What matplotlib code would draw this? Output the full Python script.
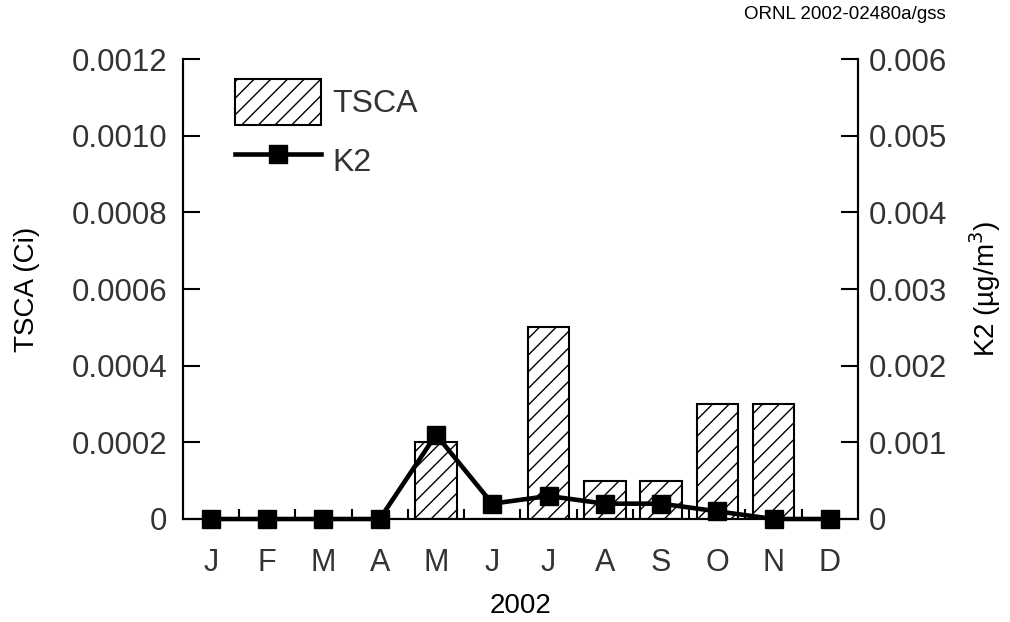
import numpy as np
import matplotlib
matplotlib.use("Agg")
import matplotlib.pyplot as plt
from matplotlib.ticker import FixedLocator, FuncFormatter

months = ["J", "F", "M", "A", "M", "J", "J", "A", "S", "O", "N", "D"]
tsca = [0, 0, 0, 0, 0.0002, 0, 0.0005, 0.0001, 0.0001, 0.0003, 0.0003, 0]
k2 = [0, 0, 0, 0, 0.0011, 0.0002, 0.0003, 0.0002, 0.0002, 0.0001, 0, 0]

plt.rcParams['font.family'] = ['Liberation Sans', 'DejaVu Sans']
plt.rcParams['hatch.linewidth'] = 1.0
txt = '#333333'

fig = plt.figure(figsize=(10.1, 6.22), dpi=100)
ax = fig.add_axes([0.181, 0.1656, 0.6685, 0.7395])
ax2 = ax.twinx()

x = np.arange(len(months))
bars = ax.bar(x, tsca, width=0.74, color='white', edgecolor='black',
              linewidth=1.5, hatch='//', label='TSCA', zorder=2)
line, = ax2.plot(x, k2, color='black', lw=3.3, marker='s', ms=12.5,
                 label='K2', clip_on=False, zorder=3)

# line axis on top of the bars
ax.set_zorder(ax2.get_zorder() - 1)
ax2.patch.set_visible(False)

ax.set_xlim(-0.5, 11.5)
ax.set_ylim(0, 0.0012)
ax2.set_ylim(0, 0.006)

for a in (ax, ax2):
    a.spines['top'].set_visible(False)
    for s in a.spines.values():
        s.set_linewidth(1.5)

ax.set_yticks(np.arange(0, 0.00121, 0.0002))
ax.yaxis.set_major_formatter(FuncFormatter(lambda v, p: "0" if v == 0 else f"{v:.4f}"))
ax2.set_yticks(np.arange(0, 0.00601, 0.001))
ax2.yaxis.set_major_formatter(FuncFormatter(lambda v, p: "0" if v == 0 else f"{v:.3f}"))

ax.set_xticks(x)
ax.set_xticklabels(months)
ax.xaxis.set_minor_locator(FixedLocator(np.arange(0.5, 11, 1)))
ax.tick_params(axis='x', which='major', length=0, pad=21, labelsize=22, labelcolor=txt)
ax.tick_params(axis='x', which='minor', direction='in', length=7, width=1.5)
ax.tick_params(axis='y', direction='in', length=12, width=1.5, pad=11,
               labelsize=22.5, labelcolor=txt)
ax2.tick_params(axis='y', direction='in', length=12, width=1.5, pad=8,
                labelsize=22.5, labelcolor=txt)

ax.set_xlabel("2002", fontsize=20, color='black', labelpad=11)
ax.set_ylabel("TSCA (Ci)", fontsize=20, color='black', labelpad=23)
ax2.set_ylabel("K2 (µg/m$^3$)", fontsize=20, color='black', labelpad=14)

ax.legend([bars, line], ["TSCA", "K2"], loc='upper left',
          bbox_to_anchor=(0.077, 0.957), borderaxespad=0, borderpad=0,
          frameon=False, fontsize=23, labelcolor=txt, handlelength=2.7,
          handleheight=1.84, handletextpad=0.35, labelspacing=0.4)

fig.text(0.936, 0.976, "ORNL 2002-02480a/gss", ha='right', va='center',
         fontsize=13.5, color='black')

fig.savefig("out.png", dpi=100)
